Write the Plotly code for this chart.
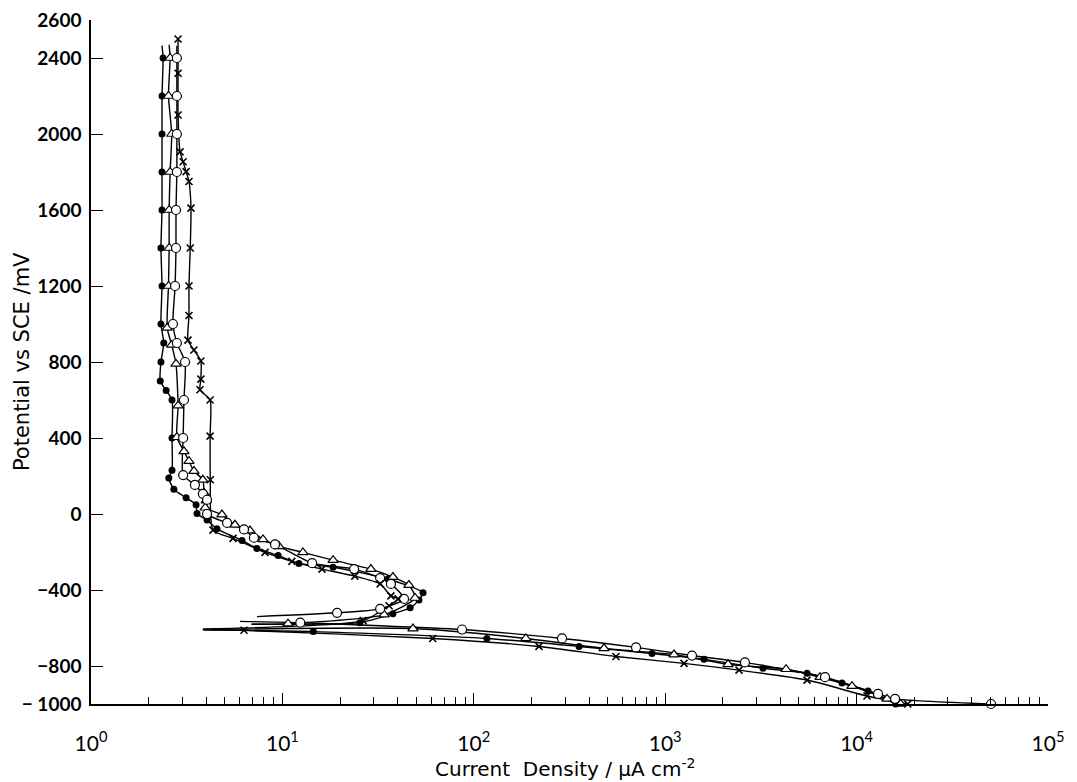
import plotly.graph_objects as go

# ---------------- data (current density in uA/cm2, potential in mV vs SCE) ----------------
# filled circles
fc_an_E = [2400, 2200, 2000, 1800, 1600, 1400, 1200, 1000, 900, 800, 700, 650, 600, 400, 230, 190, 130, 85, 49, 2,
           -32, -78, -139, -181, -218, -260, -280, -342, -415, -452, -494, -525, -572]
fc_an_I = [2.38, 2.35, 2.35, 2.35, 2.35, 2.32, 2.35, 2.32, 2.4, 2.32, 2.3, 2.47, 2.65, 2.65, 2.65, 2.55, 2.71, 3.14, 3.54, 3.58,
           4.04, 4.55, 6.15, 7.36, 9.5, 12.2, 18.4, 35.6, 54.3, 51.7, 46.5, 37.8, 25.4]
fc_an_top = (2465, 2.35)
fc_an_end = (-580, 6.9)
fc_ca_E = [-619, -655, -697, -734, -765, -812, -838, -890, -932, -1000]
fc_ca_I = [14.5, 117, 355, 853, 1595, 3243, 5510, 8390, 11480, 16000]
fc_ca_start = (-610, 3.85)

# open triangles
tr_an_E = [2400, 2200, 2000, 1800, 1600, 1400, 1200, 980, 890, 790, 570, 404, 330, 278, 226, 180, 110, 70, 33,
           -3, -57, -87, -134, -170, -202, -243, -290, -332, -374, -442, -530, -577]
tr_an_I = [2.59, 2.54, 2.64, 2.59, 2.56, 2.56, 2.54, 2.5, 2.64, 2.78, 2.85, 2.81, 3.06, 3.25, 3.45, 3.84, 3.9, 4.0, 3.95,
           4.83, 5.65, 6.77, 7.92, 9.6, 12.8, 18.4, 29.0, 37.8, 45.8, 49.3, 34.0, 10.7]
tr_an_top = (2470, 2.56)
tr_an_end = (-580, 6.9)
tr_ca_E = [-603, -655, -707, -740, -791, -817, -859, -906, -973, -1000]
tr_ca_I = [48.1, 187, 479, 1112, 2130, 4280, 6440, 9460, 14420, 17000]
tr_ca_start = (-608, 4.2)

# open circles
oc_an_E = [2400, 2200, 2000, 1800, 1600, 1400, 1200, 1000, 900, 800, 600, 400, 205, 153, 106, 75, 0,
           -47, -81, -125, -160, -259, -290, -337, -368, -447, -499, -520]
oc_an_I = [2.81, 2.81, 2.81, 2.81, 2.78, 2.78, 2.75, 2.68, 2.81, 3.10, 3.06, 3.03, 3.03, 3.49, 3.84, 4.04, 4.04,
           5.14, 6.3, 7.1, 9.15, 14.3, 23.7, 32.4, 36.9, 43.2, 32.4, 19.3]
oc_an_top = (2465, 2.81)
oc_an_end = (-540, 7.36)
oc_ca_E = [-572, -608, -655, -702, -745, -781, -859, -947, -973, -1000]
oc_ca_I = [12.4, 86.8, 289, 704, 1380, 2610, 6840, 12940, 15880, 50400]
oc_ca_start = (-565, 6.0)

# crosses
cr_an_E = [2500, 2320, 2100, 1906, 1854, 1802, 1750, 1610, 1400, 1200, 1045, 915, 863, 805, 710, 654, 600, 410, 180, -85,
           -128, -202, -249, -290, -327, -368, -431, -447, -483, -561]
cr_an_I = [2.85, 2.85, 2.85, 2.92, 3.03, 3.14, 3.25, 3.33, 3.3, 3.25, 3.25, 3.21, 3.45, 3.75, 3.75, 3.71, 4.19, 4.19, 4.2, 4.34,
           5.52, 8.11, 11.2, 16.1, 23.9, 32.4, 36.9, 40.2, 36.1, 26.4]
cr_an_end = (-605, 3.84)
cr_ca_E = [-612, -655, -697, -750, -786, -822, -874, -958, -1000]
cr_ca_I = [6.3, 61, 219, 553, 1254, 2430, 5510, 11330, 18500]
cr_ca_start = (-610, 3.84)

y_ticks = [-1000, -800, -400, 0, 400, 800, 1200, 1600, 2000, 2400, 2600]
y_ticktext = ["\u2212 1000", "\u2212800", "\u2212400", "0", "400", "800", "1200", "1600", "2000", "2400", "2600"]
x_ticks = [1, 10, 100, 1000, 10000, 100000]
x_ticktext = ["10<sup>0</sup>", "10<sup>1</sup>", "10<sup>2</sup>", "10<sup>3</sup>", "10<sup>4</sup>", "10<sup>5</sup>"]

# ---------------- figure ----------------
fig = go.Figure()


def branch(E, I, top=None, end=None):
    xs, ys = list(I), list(E)
    if top is not None:
        xs = [top[1]] + xs
        ys = [top[0]] + ys
    if end is not None:
        xs = xs + [end[1]]
        ys = ys + [end[0]]
    return xs, ys


lines = [
    branch(fc_an_E, fc_an_I, fc_an_top, fc_an_end),
    branch(fc_ca_E, fc_ca_I, fc_ca_start),
    branch(tr_an_E, tr_an_I, tr_an_top, tr_an_end),
    branch(tr_ca_E, tr_ca_I, tr_ca_start),
    branch(oc_an_E, oc_an_I, oc_an_top, oc_an_end),
    branch(oc_ca_E, oc_ca_I, oc_ca_start),
    branch(cr_an_E, cr_an_I, None, cr_an_end),
    branch(cr_ca_E, cr_ca_I, cr_ca_start),
]
for xs, ys in lines:
    fig.add_trace(go.Scatter(x=xs, y=ys, mode="lines",
                             line=dict(color="black", width=1.4, shape="spline", smoothing=0.6),
                             hoverinfo="skip", showlegend=False, cliponaxis=False))

marker_defs = [
    (fc_an_I + fc_ca_I, fc_an_E + fc_ca_E, dict(symbol="circle", size=7, color="black", line=dict(width=0))),
    (tr_an_I + tr_ca_I, tr_an_E + tr_ca_E, dict(symbol="triangle-up", size=9, color="white", line=dict(color="black", width=1.2))),
    (oc_an_I + oc_ca_I, oc_an_E + oc_ca_E, dict(symbol="circle", size=9, color="white", line=dict(color="black", width=1.2))),
    (cr_an_I + cr_ca_I, cr_an_E + cr_ca_E, dict(symbol="x-thin", size=7, color="black", line=dict(color="black", width=1.6))),
]
for xs, ys, mk in marker_defs:
    fig.add_trace(go.Scatter(x=xs, y=ys, mode="markers", marker=mk, showlegend=False, cliponaxis=False))

minor_vals = [k * 10 ** d for d in range(5) for k in range(2, 10)]

ytick_font = dict(family="Lato, DejaVu Sans, sans-serif", size=19, color="black", weight="bold")
xtick_font = dict(family="Lato, DejaVu Sans, sans-serif", size=21, color="black")
ytitle_font = dict(family="DejaVu Sans, sans-serif", size=21, color="black")
xtitle_font = dict(family="DejaVu Sans, sans-serif", size=20, color="black")

# page body has an 8 px margin: figure is sized to fit inside the window
fig.update_layout(
    width=1069, height=774,
    margin=dict(l=83, r=29, t=12, b=78, pad=0, autoexpand=False),
    paper_bgcolor="white", plot_bgcolor="white",
    xaxis=dict(type="log", range=[0, 5], showgrid=False, zeroline=False, automargin=False,
               showline=True, linecolor="black", linewidth=1.5,
               tickmode="array", tickvals=x_ticks, ticktext=x_ticktext,
               ticks="inside", ticklen=11, tickwidth=1.3, tickcolor="black",
               ticklabelstandoff=20, tickfont=xtick_font, ticklabeloverflow="allow",
               minor=dict(tickmode="array", tickvals=minor_vals, ticks="inside", ticklen=7,
                          tickwidth=1.2, tickcolor="black", showgrid=False)),
    yaxis=dict(range=[-1000, 2600], showgrid=False, zeroline=False, automargin=False,
               showline=True, linecolor="black", linewidth=1.5,
               tickmode="array", tickvals=y_ticks, ticktext=y_ticktext,
               ticks="inside", ticklen=12, tickwidth=1.3, tickcolor="black",
               ticklabelstandoff=4, tickfont=ytick_font, ticklabeloverflow="allow"),
    annotations=[
        dict(text="Potential vs SCE /mV", xref="paper", yref="paper", x=-0.072, y=0.5,
             xanchor="center", yanchor="middle", textangle=-90, showarrow=False, font=ytitle_font),
        dict(text="Current  Density / \u00b5A cm<sup>-2</sup>", xref="paper", yref="paper", x=0.496, y=-0.093,
             xanchor="center", yanchor="middle", showarrow=False, font=xtitle_font),
    ],
)

fig.write_html("out.html")
